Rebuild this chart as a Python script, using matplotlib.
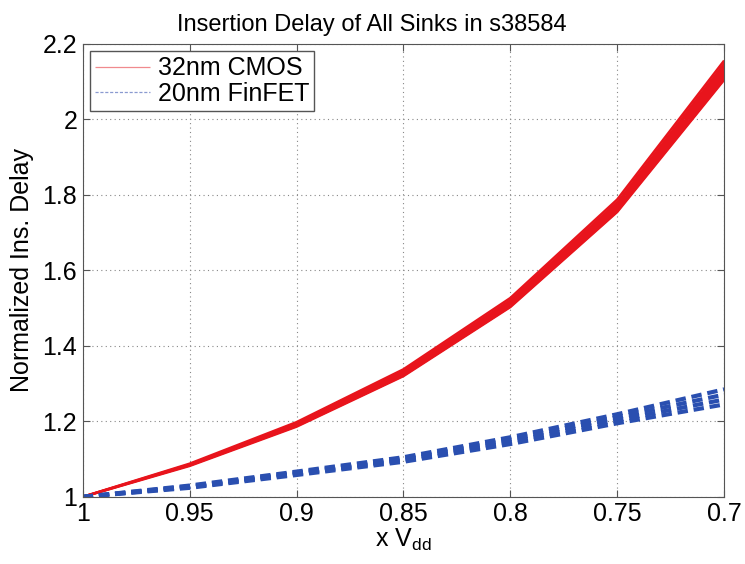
import matplotlib.pyplot as plt

plt.rcParams["font.family"] = ["Liberation Sans", "DejaVu Sans"]
plt.rcParams["mathtext.fontset"] = "custom"
plt.rcParams["mathtext.rm"] = "Liberation Sans"

vdd = [1.0, 0.95, 0.9, 0.85, 0.8, 0.75, 0.7]

# a few sinks per technology (normalized insertion delay)
cmos_sinks = [
    [1.0, 1.082, 1.186, 1.320, 1.503, 1.755, 2.105],
    [1.0, 1.084, 1.190, 1.326, 1.511, 1.766, 2.122],
    [1.0, 1.086, 1.194, 1.332, 1.519, 1.777, 2.139],
    [1.0, 1.088, 1.198, 1.338, 1.527, 1.788, 2.156],
]
finfet_sinks = [
    [1.0, 1.024, 1.058, 1.093, 1.140, 1.195, 1.245],
    [1.0, 1.026, 1.061, 1.097, 1.146, 1.203, 1.258],
    [1.0, 1.028, 1.064, 1.101, 1.152, 1.211, 1.271],
    [1.0, 1.030, 1.067, 1.105, 1.158, 1.219, 1.285],
]

fig = plt.figure(figsize=(7.45, 5.64), dpi=100)
ax = fig.add_axes([0.111, 0.119, 0.861, 0.803])

red = "#e8141c"
blue = "#2a4fb0"
ax.fill_between(vdd, cmos_sinks[0], cmos_sinks[-1], color=red, lw=0)
for i, s in enumerate(cmos_sinks):
    ax.plot(vdd, s, color=red, lw=1.8, solid_capstyle="butt",
            label="32nm CMOS" if i == 0 else None)
for i, s in enumerate(finfet_sinks):
    ax.plot(vdd, s, color=blue, lw=3, ls=(0, (2.5, 1.4)),
            label="20nm FinFET" if i == 0 else None)

ax.set_xlim(1.0, 0.7)
ax.set_ylim(1.0, 2.2)
ax.set_xticks(vdd)
ax.set_xticklabels(["1", "0.95", "0.9", "0.85", "0.8", "0.75", "0.7"])
ax.set_yticks([1, 1.2, 1.4, 1.6, 1.8, 2, 2.2])
ax.set_yticklabels(["1", "1.2", "1.4", "1.6", "1.8", "2", "2.2"])
ax.tick_params(direction="in", top=True, right=True, labelsize=18, length=5,
               color="#555555", pad=4)
ax.grid(True, ls=(0, (1, 3)), color="#888888", lw=0.8)
for sp in ax.spines.values():
    sp.set_color("#555555")

ax.set_xlabel("x V$_{\\mathrm{dd}}$", fontsize=18, labelpad=0)
ax.set_ylabel("Normalized Ins. Delay", fontsize=18, labelpad=6)
ax.set_title("Insertion Delay of All Sinks in s38584", fontsize=17, pad=9,
             x=0.45)

leg = ax.legend(loc="upper left", fontsize=18, handlelength=2.2,
                fancybox=False, framealpha=1, edgecolor="#555555",
                borderpad=0.2, labelspacing=0.05, handletextpad=0.3,
                borderaxespad=0.3)
leg_colors = ["#f08a8e", "#8a9ad0"]
for h, c in zip(leg.get_lines(), leg_colors):
    h.set_linewidth(0.9)
    h.set_color(c)

fig.savefig("out.png", dpi=100)
